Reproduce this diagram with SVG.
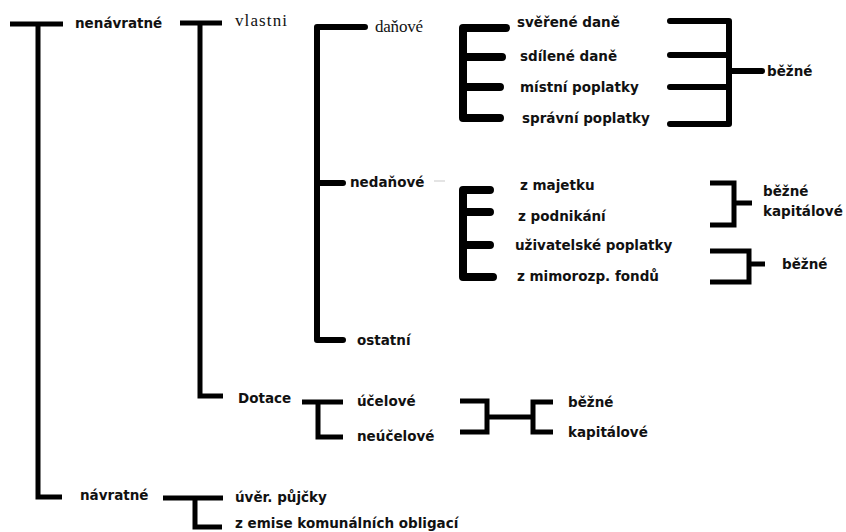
<svg xmlns="http://www.w3.org/2000/svg" width="846" height="532" viewBox="0 0 846 532">
  <style>
    .lbl { font-family: "DejaVu Sans", "Liberation Sans", sans-serif; font-weight: bold; font-size: 13.5px; fill: #111; }
    .ser { font-family: "Liberation Serif", "DejaVu Serif", serif; font-size: 17px; fill: #111; }
    .ln { fill: none; stroke: #000; stroke-width: 5; stroke-linejoin: miter; }
    .thick { fill: none; stroke: #000; stroke-width: 8; stroke-linecap: round; stroke-linejoin: round; }
    .mid { fill: none; stroke: #000; stroke-width: 6; stroke-linecap: round; stroke-linejoin: round; }
  </style>
  <rect width="846" height="532" fill="#fff"/>

  <g id="connectors">
    <!-- root: nenávratné / návratné -->
    <path class="ln" d="M10 24 H63 M38 24 V497 H62"/>
    <!-- nenávratné: vlastni / Dotace -->
    <path class="ln" d="M200 23 V396 H223"/>
    <path class="ln" stroke-width="7" d="M180 23 H222"/>
    <!-- vlastni: daňové / nedaňové / ostatní -->
    <path class="mid" d="M365 27 H317 V340 H343 M317 183 H343"/>
    <!-- daňové items -->
    <path class="thick" d="M506 28 H463 V118 H500 M463 57 H502 M463 87 H500"/>
    <!-- daňové items -> běžné -->
    <path class="mid" stroke-linecap="butt" d="M670 21 H729 V124 H670 M670 55 H729 M670 87 H729 M729 71 H762"/>
    <!-- nedaňové items -->
    <path class="thick" d="M490 190 H463 V277 H493 M463 212 H490 M463 245 H490"/>
    <line x1="434" y1="181" x2="445" y2="181" stroke="#e4e4e4" stroke-width="2"/>
    <!-- z majetku / z podnikání -> běžné, kapitálové -->
    <path class="ln" stroke-width="4" d="M710 183 H734 V225 H710 M734 203 H752"/>
    <!-- uživatelské poplatky / z mimorozp. fondů -> běžné -->
    <path class="ln" stroke-width="4" d="M710 251 H749 V282 H710 M749 264 H765"/>
    <!-- Dotace: účelové / neúčelové -->
    <path class="ln" d="M302 402 H343 M318 402 V437 H343"/>
    <!-- účelové / neúčelové -> běžné / kapitálové -->
    <path class="ln" stroke-width="4" d="M460 401 H487 V432 H460 M487 417 H533 M553 402 H533 V432 H553"/>
    <!-- návratné: úvěr. půjčky / z emise -->
    <path class="ln" d="M163 498 H223 M195 498 V527 H222"/>
  </g>

  <g id="n-nenavratne"><text class="lbl" x="75" y="28">nenávratné</text></g>
  <g id="n-vlastni"><text class="ser" x="235" y="26" textLength="52">vlastni</text></g>
  <g id="n-danove"><text class="ser" x="375" y="32" textLength="48">daňové</text></g>
  <g id="n-nedanove"><text class="lbl" x="350" y="187">nedaňové</text></g>
  <g id="n-ostatni"><text class="lbl" x="357" y="345">ostatní</text></g>

  <g id="n-sverene"><text class="lbl" x="517" y="27">svěřené daně</text></g>
  <g id="n-sdilene"><text class="lbl" x="520" y="61">sdílené daně</text></g>
  <g id="n-mistni"><text class="lbl" x="520" y="92">místní poplatky</text></g>
  <g id="n-spravni"><text class="lbl" x="522" y="123">správní poplatky</text></g>
  <g id="n-bezne1"><text class="lbl" x="767" y="76">běžné</text></g>

  <g id="n-majetek"><text class="lbl" x="520" y="190">z majetku</text></g>
  <g id="n-podnikani"><text class="lbl" x="518" y="221">z podnikání</text></g>
  <g id="n-uzivatelske"><text class="lbl" x="515" y="250">uživatelské poplatky</text></g>
  <g id="n-mimorozp"><text class="lbl" x="517" y="281">z mimorozp. fondů</text></g>
  <g id="n-bezne-kap"><text class="lbl" x="763" y="196">běžné</text><text class="lbl" x="763" y="216">kapitálové</text></g>
  <g id="n-bezne2"><text class="lbl" x="782" y="269">běžné</text></g>

  <g id="n-dotace"><text class="lbl" x="238" y="403">Dotace</text></g>
  <g id="n-ucelove"><text class="lbl" x="357" y="406">účelové</text></g>
  <g id="n-neucelove"><text class="lbl" x="357" y="441">neúčelové</text></g>
  <g id="n-bezne3"><text class="lbl" x="568" y="407">běžné</text></g>
  <g id="n-kapitalove3"><text class="lbl" x="568" y="437">kapitálové</text></g>

  <g id="n-navratne"><text class="lbl" x="80" y="500">návratné</text></g>
  <g id="n-uver"><text class="lbl" x="235" y="502">úvěr. půjčky</text></g>
  <g id="n-emise"><text class="lbl" x="235" y="528">z emise komunálních obligací</text></g>
</svg>
